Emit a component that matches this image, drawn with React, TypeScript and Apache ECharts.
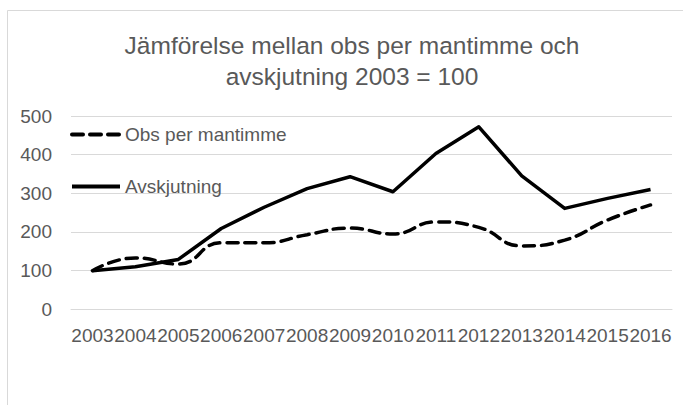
import React, { useEffect, useRef } from "react";
import * as echarts from "echarts";

const years = ["2003", "2004", "2005", "2006", "2007", "2008", "2009", "2010", "2011", "2012", "2013", "2014", "2015", "2016"];
const obsPerMantimme = [100, 133, 117, 172, 172, 193, 210, 195, 226, 212, 164, 179, 231, 270];
const avskjutning = [100, 110, 129, 209, 264, 312, 343, 304, 403, 472, 345, 261, 287, 310];
const yTicks = { min: 0, max: 500, interval: 100 };
const titleText = "Jämförelse mellan obs per mantimme och\navskjutning 2003 = 100";
const seriesNames = ["Obs per mantimme", "Avskjutning"];

const FONT = "Liberation Sans";
const TEXT = "#595959";
const GRID = "#d9d9d9";

export default function App() {
  const ref = useRef<HTMLDivElement>(null);
  useEffect(() => {
    if (!ref.current) return;
    const chart = echarts.init(ref.current, null, { renderer: "svg" });
    chart.setOption({
      animation: false,
      backgroundColor: "#ffffff",
      graphic: [
        {
          type: "rect",
          z: -10,
          shape: { x: 7.5, y: 10.5, width: 800, height: 500 },
          style: { fill: "none", stroke: GRID, lineWidth: 1 },
        },
      ],
      title: {
        text: titleText,
        left: 352,
        top: 30,
        textAlign: "center",
        padding: 0,
        textStyle: {
          fontFamily: FONT,
          fontSize: 24.5,
          fontWeight: "normal",
          color: TEXT,
          lineHeight: 31,
        },
      },
      legend: {
        orient: "vertical",
        left: 70,
        top: 125,
        padding: 0,
        itemWidth: 48,
        itemHeight: 14,
        itemGap: 33,
        data: seriesNames,
        lineStyle: { width: 4 },
        itemStyle: { color: "rgba(0,0,0,0)", borderColor: "rgba(0,0,0,0)", borderWidth: 0, opacity: 0 },
        textStyle: { fontFamily: FONT, fontSize: 19, color: TEXT },
      },
      grid: { left: 71, top: 116, width: 601, height: 193.3, containLabel: false },
      xAxis: {
        type: "category",
        data: years,
        boundaryGap: true,
        axisLine: { show: true, lineStyle: { color: GRID, width: 1 } },
        axisTick: { show: false },
        axisLabel: {
          interval: 0,
          hideOverlap: false,
          margin: 17,
          fontFamily: FONT,
          fontSize: 19,
          color: TEXT,
        },
      },
      yAxis: {
        type: "value",
        min: yTicks.min,
        max: yTicks.max,
        interval: yTicks.interval,
        axisLine: { show: false },
        axisTick: { show: false },
        splitLine: { lineStyle: { color: GRID, width: 1 } },
        axisLabel: { margin: 19, fontFamily: FONT, fontSize: 19, color: TEXT },
      },
      series: [
        {
          name: seriesNames[0],
          type: "line",
          data: obsPerMantimme,
          smooth: true,
          symbol: "none",
          lineStyle: { color: "#000000", width: 3.5, type: [11, 7], cap: "round" },
          itemStyle: { color: "#000000" },
        },
        {
          name: seriesNames[1],
          type: "line",
          data: avskjutning,
          smooth: false,
          symbol: "none",
          lineStyle: { color: "#000000", width: 3.5, type: "solid", join: "round" },
          itemStyle: { color: "#000000" },
        },
      ],
    });
    return () => chart.dispose();
  }, []);
  return <div ref={ref} style={{ position: "fixed", left: 0, top: 0, width: 683, height: 405 }} />;
}
